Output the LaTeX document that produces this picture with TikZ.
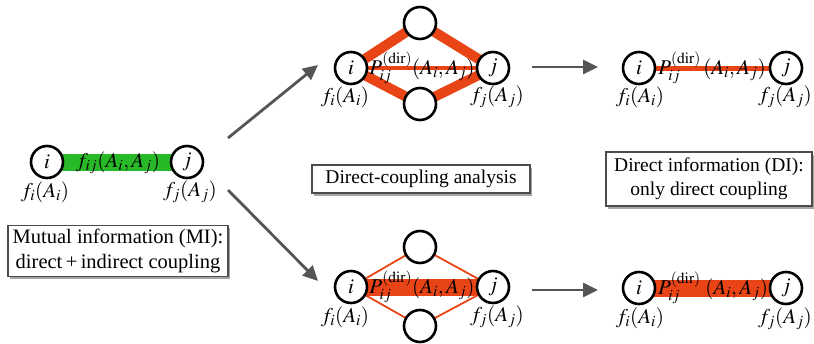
\documentclass[tikz,border=0pt]{standalone}
\usepackage{mathptmx}
\usepackage[no-math]{fontspec}
\setmainfont{Liberation Serif}
\usetikzlibrary{arrows.meta,shadows,backgrounds}

\definecolor{cgreen}{RGB}{40,185,40}
\definecolor{corange}{RGB}{232,68,22}
\definecolor{carrow}{RGB}{85,85,85}

\tikzset{
  vtx/.style={circle, draw=black, line width=2.6pt, fill=white,
    minimum size=32pt, inner sep=0pt, font=\fontsize{21}{23}\selectfont},
  lab/.style={inner sep=0pt, font=\fontsize{21}{23}\selectfont},
  infobox/.style={draw=black!70, line width=1.1pt, fill=white, align=center,
    inner sep=0pt, font=\fontsize{19.5}{24}\selectfont,
    drop shadow={shadow xshift=1.5pt, shadow yshift=-2.5pt, opacity=0.35, fill=black}},
  flow/.style={carrow, line width=2.8pt, -{Triangle[length=15pt,width=14pt]}},
}

\newcommand{\mfI}{$f_i(A_i)$}
\newcommand{\mfJ}{$f_j(A_j)$}
\newcommand{\pdir}{$P^{(\mathrm{dir})}_{ij}(A_i,A_j)$}

\begin{document}
\begin{tikzpicture}[x=1pt,y=-1pt]
\useasboundingbox (0,0) rectangle (814,343);

% ---- mutual information panel ----
\node[vtx] (mi) at (47,162) {$i$};
\node[vtx] (mj) at (187,162) {$j$};
\node[lab] at (118,163) {$f_{ij}(A_i,A_j)$};
\node[lab] (mfi) at (45,192) {\mfI};
\node[lab] (mfj) at (190,192) {\mfJ};
\node[infobox, minimum width=220pt, minimum height=51pt,
      font=\fontsize{20.5}{25}\selectfont] (mibox) at (118,251)
  {Mutual information (MI):\\ direct\,+\,indirect coupling};
\begin{scope}[on background layer]
  \draw[cgreen, line width=17pt] (mi.center) -- (mj.center);
\end{scope}

% ---- upper route: weak direct, strong indirect ----
\node[vtx] (ui) at (351,68) {$i$};
\node[vtx] (uj) at (493,68) {$j$};
\node[vtx] (ut) at (420,23) {};
\node[vtx] (ub) at (420,104) {};
\node[lab] at (422,68) {\pdir};
\node[lab] (ufi) at (345,97) {\mfI};
\node[lab] (ufj) at (497,97) {\mfJ};
\begin{scope}[on background layer]
  \draw[corange, line width=10pt, line join=round]
    (ui.center) -- (ut.center) -- (uj.center) -- (ub.center) -- cycle;
  \draw[corange, line width=4pt] (ui.center) -- (uj.center);
\end{scope}

% ---- lower route: strong direct, weak indirect ----
\node[vtx] (li) at (351,287) {$i$};
\node[vtx] (lj) at (493,287) {$j$};
\node[vtx] (lt) at (420,247) {};
\node[vtx] (lb) at (420,326) {};
\node[lab] at (422,287) {\pdir};
\node[lab] (lfi) at (345,317) {\mfI};
\node[lab] (lfj) at (497,317) {\mfJ};
\begin{scope}[on background layer]
  \draw[corange, line width=1.8pt]
    (li.center) -- (lt.center) -- (lj.center) -- (lb.center) -- cycle;
  \draw[corange, line width=17pt] (li.center) -- (lj.center);
\end{scope}

% ---- direct-information results ----
\node[vtx] (ri) at (639,68) {$i$};
\node[vtx] (rj) at (786,68) {$j$};
\node[lab] at (712,68) {$P^{(\mathrm{dir})}_{ij}\,(A_i,A_j)$};
\node[lab] (rfi) at (640,97) {\mfI};
\node[lab] (rfj) at (785,97) {\mfJ};
\begin{scope}[on background layer]
  \draw[corange, line width=5pt] (ri.center) -- (rj.center);
\end{scope}

\node[vtx] (si) at (639,288) {$i$};
\node[vtx] (sj) at (786,288) {$j$};
\node[lab] at (713,288) {$P^{(\mathrm{dir})}_{ij}\;(A_i,A_j)$};
\node[lab] (sfi) at (640,318) {\mfI};
\node[lab] (sfj) at (785,319) {\mfJ};
\begin{scope}[on background layer]
  \draw[corange, line width=17pt] (si.center) -- (sj.center);
\end{scope}

% ---- captions ----
\node[infobox, minimum width=218pt, minimum height=28pt] (dca) at (421,179)
  {Direct-coupling analysis};
\node[infobox, minimum width=206pt, minimum height=54pt] (dibox) at (709,179)
  {Direct information (DI):\\ only direct coupling};

% ---- arrows ----
\coordinate (a1s) at (228,138);
\coordinate (a1e) at (318,65);
\coordinate (a2s) at (228,190);
\coordinate (a2e) at (318,281);
\coordinate (a3s) at (532,67);
\coordinate (a3e) at (598,67);
\coordinate (a4s) at (532,290);
\coordinate (a4e) at (598,290);
\draw[flow] (a1s) -- (a1e);
\draw[flow] (a2s) -- (a2e);
\draw[flow] (a3s) -- (a3e);
\draw[flow] (a4s) -- (a4e);
\end{tikzpicture}
\end{document}
